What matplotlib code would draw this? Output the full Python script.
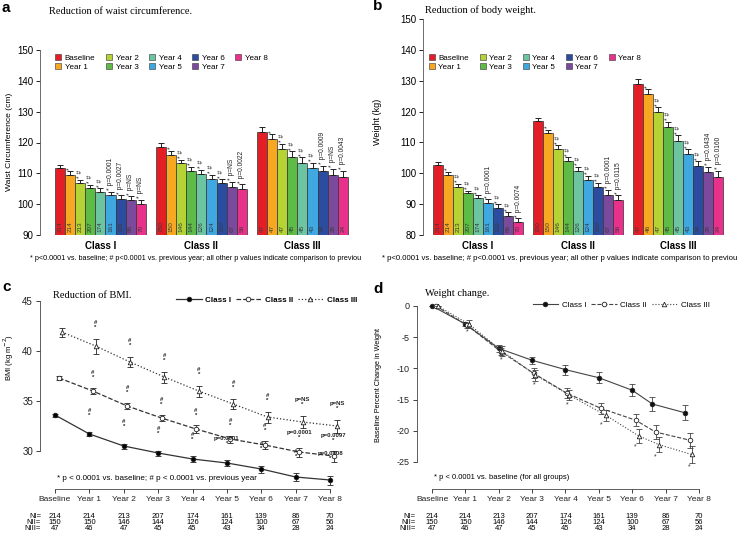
import matplotlib
matplotlib.use('Agg')
import matplotlib.pyplot as plt
from matplotlib.lines import Line2D
import matplotlib.transforms as mtransforms
import numpy as np

plt.rcParams['font.family'] = ['Liberation Sans', 'DejaVu Sans']
plt.rcParams['axes.unicode_minus'] = False

# ---------------- data ----------------
years = ['Baseline', 'Year 1', 'Year 2', 'Year 3', 'Year 4', 'Year 5', 'Year 6', 'Year 7', 'Year 8']
classes = ['Class I', 'Class II', 'Class III']
bar_colors = ['#E41E26', '#F7A823', '#B5D335', '#5DBB46', '#6CC5A0', '#3FA8E0', '#2B4C9F', '#7C4A9C', '#E8318B']

n_I = [214, 214, 213, 207, 174, 161, 139, 86, 70]
n_II = [150, 150, 146, 144, 126, 124, 100, 67, 56]
n_III_a = [47, 47, 47, 45, 45, 43, 34, 28, 24]
n_III = [47, 46, 47, 45, 45, 43, 34, 28, 24]

# panel a: waist circumference (cm)
waist_I = [111.8, 109.6, 107.0, 105.3, 104.1, 102.9, 101.7, 101.2, 100.1]
waist_II = [118.5, 116.1, 113.2, 110.9, 109.8, 108.3, 106.8, 105.7, 105.0]
waist_III = [123.3, 121.1, 117.8, 115.4, 113.4, 111.7, 110.6, 109.6, 108.7]
waist_err_I = [1.0, 1.0, 1.0, 1.0, 1.1, 1.1, 1.2, 1.3, 1.3]
waist_err_II = [1.2, 1.2, 1.2, 1.3, 1.3, 1.3, 1.3, 1.5, 1.5]
waist_err_III = [1.8, 1.6, 1.8, 1.8, 1.8, 1.7, 1.9, 1.9, 2.2]
waist_notes_I = ['', '*', '* #', '* #', '* #', '* p=0.0001', '* p=0.0027', '* p=NS', '* p=NS']
waist_notes_II = ['', '*', '* #', '* #', '* #', '* #', '* #', '* p=NS', '* p=0.0022']
waist_notes_III = ['', '*', '* #', '* #', '* #', '* #', '* p=0.0009', '* p=NS', '* p=0.0043']

# panel b: body weight (kg)
wt_I = [102.6, 99.6, 95.7, 93.5, 91.9, 90.5, 88.8, 86.0, 84.1]
wt_II = [116.8, 112.9, 107.9, 104.0, 100.8, 97.9, 95.6, 93.1, 91.3]
wt_III = [128.9, 125.6, 119.7, 114.9, 110.5, 106.2, 102.2, 100.3, 98.9]
wt_err_I = [0.9, 0.9, 0.9, 0.9, 1.0, 1.1, 1.2, 1.3, 1.3]
wt_err_II = [1.1, 1.2, 1.2, 1.2, 1.3, 1.3, 1.4, 1.6, 1.6]
wt_err_III = [1.6, 1.6, 1.7, 1.8, 1.8, 1.6, 1.7, 1.8, 2.0]
wt_notes_I = ['', '*', '* #', '* #', '* #', '* p=0.0001', '* #', '* #', '* p=0.0074']
wt_notes_II = ['', '*', '* #', '* #', '* #', '* #', '* #', '* p=0.0001', '* p=0.0115']
wt_notes_III = ['', '*', '* #', '* #', '* #', '* #', '* #', '* p=0.0434', '* p=0.0160']

# panel c: BMI
bmi_I = [33.6, 31.7, 30.5, 29.8, 29.2, 28.8, 28.2, 27.4, 27.1]
bmi_II = [37.3, 36.0, 34.5, 33.3, 32.2, 31.2, 30.6, 29.9, 29.5]
bmi_III = [41.9, 40.5, 38.9, 37.4, 36.0, 34.7, 33.4, 32.9, 32.5]
bmi_err_I = [0.15, 0.2, 0.25, 0.25, 0.3, 0.3, 0.35, 0.4, 0.45]
bmi_err_II = [0.2, 0.3, 0.3, 0.3, 0.35, 0.35, 0.4, 0.45, 0.55]
bmi_err_III = [0.45, 0.75, 0.5, 0.55, 0.55, 0.5, 0.55, 0.6, 0.65]
bmi_notes_I = ['', '#\n*', '#\n*', '#\n*', '#\n*', 'p=0.0001\n*', '#\n*', '#\n*', 'p=0.0008\n*']
bmi_notes_II = ['', '#\n*', '#\n*', '#\n*', '#\n*', '#\n*', '#\n*', 'p=0.0001\n*', 'p=0.0097\n*']
bmi_notes_III = ['', '#\n*', '#\n*', '#\n*', '#\n*', '#\n*', '#\n*', 'p=NS\n*', 'p=NS\n*']
bmi_time_I = [0, 1, 2, 3, 4, 5, 6, 7, 8]
bmi_time_II = [0.12, 1.1, 2.1, 3.1, 4.1, 5.1, 6.1, 7.1, 8.1]
bmi_time_III = [0.2, 1.18, 2.18, 3.18, 4.18, 5.18, 6.18, 7.2, 8.2]

# panel d: % change in weight
pct_I = [0, -2.9, -6.8, -8.7, -10.2, -11.5, -13.5, -15.7, -17.1]
pct_II = [0, -3.1, -7.3, -10.8, -14.0, -16.4, -18.3, -20.2, -21.5]
pct_III = [0, -2.9, -7.2, -11.1, -14.3, -17.5, -20.8, -22.2, -23.8]
pct_err_I = [0, 0.3, 0.5, 0.6, 0.8, 0.9, 1.0, 1.1, 1.2]
pct_err_II = [0, 0.4, 0.6, 0.8, 0.8, 0.9, 1.0, 1.1, 1.2]
pct_err_III = [0, 0.6, 0.8, 0.9, 0.8, 0.9, 1.1, 1.2, 1.3]
pct_time_I = [0, 1.0, 2.0, 3.0, 4.0, 5.0, 6.0, 6.6, 7.57]
pct_time_II = [0.12, 1.05, 2.06, 3.05, 4.05, 5.06, 6.1, 6.7, 7.72]
pct_time_III = [0.17, 1.1, 2.1, 3.1, 4.12, 5.2, 6.19, 6.79, 7.78]

# ---------------- layout helpers ----------------
W, H = 745, 536
fig = plt.figure(figsize=(W / 100, H / 100), dpi=100)


def rect(x0, y0, x1, y1):
    return [x0 / W, 1 - y1 / H, (x1 - x0) / W, (y1 - y0) / H]


def ftext(x, y, s, **kw):
    fig.text(x / W, 1 - y / H, s, **kw)


SERIF = ['Liberation Serif', 'DejaVu Serif']


def bar_panel(ax, vals, errs, ns, notes, ymin, ymax, yticks):
    for g in range(3):
        xs = g * 10 + np.arange(9)
        v = np.array(vals[g])
        ax.bar(xs, v - ymin, bottom=ymin, width=1.0, color=bar_colors,
               edgecolor='#333333', linewidth=0.5, zorder=2)
        ax.errorbar(xs, v, yerr=[np.zeros(9), errs[g]], fmt='none', ecolor='#222222',
                    elinewidth=0.7, capsize=2.2, capthick=0.7, zorder=3)
        for i in range(9):
            ax.text(xs[i], ymin + 0.9, str(ns[g][i]), rotation=90, ha='center', va='bottom',
                    fontsize=4.6, color='#3a3a3a', zorder=4)
            if notes[g][i]:
                ax.text(xs[i], v[i] + errs[g][i] + 0.5, notes[g][i], rotation=90,
                        ha='center', va='bottom', fontsize=4.8, color='#222222')
    ax.set_ylim(ymin, ymax)
    ax.set_yticks(yticks)
    ax.tick_params(axis='y', labelsize=7, length=3, width=0.6, pad=2)
    ax.set_xticks([4, 14, 24])
    ax.set_xticklabels(classes, fontsize=7, fontweight='bold')
    ax.tick_params(axis='x', length=0, pad=4)
    for s in ['top', 'right', 'bottom']:
        ax.spines[s].set_visible(False)
    ax.spines['left'].set_linewidth(0.6)
    ax.spines['left'].set_color('#555555')
    handles = [Line2D([], [], marker='s', linestyle='none', markerfacecolor=c,
                      markeredgecolor='#333333', markeredgewidth=0.4, markersize=4.5) for c in bar_colors]
    return handles


# ---------------- panel a ----------------
axa = fig.add_axes(rect(40, 50, 358, 235))
axa.set_xlim(-1.98, 29.5)
h = bar_panel(axa, [waist_I, waist_II, waist_III], [waist_err_I, waist_err_II, waist_err_III],
              [n_I, n_II, n_III_a], [waist_notes_I, waist_notes_II, waist_notes_III],
              90, 150, [90, 100, 110, 120, 130, 140, 150])
axa.legend(h, years, ncol=5, loc='upper left', bbox_to_anchor=(0.035, 0.995), frameon=False,
           fontsize=5.8, handletextpad=0.3, columnspacing=1.2, labelspacing=0.15,
           handlelength=1.0, borderaxespad=0)
ftext(10, 142, 'Waist Circumference (cm)', rotation=90, ha='center', va='center', fontsize=6.1)
ftext(49, 12, 'Reduction of waist circumference.', fontsize=7.5, family=SERIF, va='center')
ftext(2, 8, 'a', fontsize=11, fontweight='bold', va='center')
ftext(30, 258, '* p<0.0001 vs. baseline; # p<0.0001 vs. previous year; all other p values indicate comparison to previou',
      fontsize=5.2, va='center')

# ---------------- panel b ----------------
axb = fig.add_axes(rect(423, 19, 733, 235))
axb.set_xlim(-1.5, 29.5)
h = bar_panel(axb, [wt_I, wt_II, wt_III], [wt_err_I, wt_err_II, wt_err_III],
              [n_I, n_II, n_III], [wt_notes_I, wt_notes_II, wt_notes_III],
              80, 150, [80, 90, 100, 110, 120, 130, 140, 150])
axb.legend(h, years, ncol=5, loc='upper left', bbox_to_anchor=(0.005, 0.85), frameon=False,
           fontsize=5.8, handletextpad=0.3, columnspacing=1.2, labelspacing=0.15,
           handlelength=1.0, borderaxespad=0)
ftext(378, 122, 'Weight (kg)', rotation=90, ha='center', va='center', fontsize=6.5)
ftext(425, 10, 'Reduction of body weight.', fontsize=7.5, family=SERIF, va='center')
ftext(373, 6, 'b', fontsize=11, fontweight='bold', va='center')
ftext(382, 258, '* p<0.0001 vs. baseline; # p<0.0001 vs. previous year; all other p values indicate comparison to previou',
      fontsize=5.6, va='center')


def line_axes(ax, yb, xb):
    for s in ['top', 'right']:
        ax.spines[s].set_visible(False)
    ax.spines['left'].set_bounds(*yb)
    ax.spines['bottom'].set_bounds(*xb)
    for s in ['left', 'bottom']:
        ax.spines[s].set_linewidth(0.6)
        ax.spines[s].set_color('#444444')
    ax.set_xticks(range(9))
    ax.set_xticklabels(years, fontsize=6)
    ax.tick_params(axis='both', length=3, width=0.6, pad=2, colors='#222222')
    ax.tick_params(axis='y', labelsize=7)


def n_table(ax, ylist, xlab):
    tr = mtransforms.blended_transform_factory(ax.transData, fig.transFigure)
    rows = [('NI=', n_I), ('NII=', n_II), ('NIII=', n_III)]
    for (lab, ns), yy in zip(rows, ylist):
        fig.text(xlab / W, 1 - yy / H, lab, ha='right', va='center', fontsize=5.5)
        for i, n in enumerate(ns):
            ax.text(i, 1 - yy / H, str(n), transform=tr, ha='center', va='center', fontsize=5.5, clip_on=False)


# ---------------- panel c ----------------
axc = fig.add_axes(rect(40, 291, 360, 489))
axc.set_xlim(-0.436, 8.87)
axc.set_ylim(26.2, 46)
line_axes(axc, (30, 45), (0, 8))
axc.set_yticks([30, 35, 40, 45])
styles = [('-', 'o', 'black'), ('--', 'o', 'white'), (':', '^', 'white')]
sets_c = [(bmi_time_I, bmi_I, bmi_err_I, bmi_notes_I, 1.45),
          (bmi_time_II, bmi_II, bmi_err_II, bmi_notes_II, 0.8),
          (bmi_time_III, bmi_III, bmi_err_III, bmi_notes_III, 0.9)]
for (t, v, e, notes, off), (ls, mk, mfc) in zip(sets_c, styles):
    axc.errorbar(t, v, yerr=e, fmt='none', ecolor='#222222', elinewidth=0.6, capsize=2.5, capthick=0.6)
    axc.plot(t, v, linestyle=ls, color='#333333', linewidth=0.9, marker=mk, markersize=3.3,
             markerfacecolor=mfc, markeredgecolor='#222222', markeredgewidth=0.6)
    for i in range(9):
        if notes[i]:
            axc.text(t[i], v[i] + e[i] + off, notes[i], ha='center', va='bottom', fontsize=4.3,
                     fontweight='bold', linespacing=0.95, color='#222222')
leg_h = [Line2D([], [], linestyle=ls, color='#333333', linewidth=0.9, marker=mk, markersize=3.3,
                markerfacecolor=mfc, markeredgecolor='#222222', markeredgewidth=0.6)
         for ls, mk, mfc in styles]
axc.legend(leg_h, classes, ncol=3, loc='upper right', bbox_to_anchor=(1.0, 0.99), frameon=False,
           handlelength=3.2, handletextpad=0.4, columnspacing=0.6, borderaxespad=0,
           prop={'weight': 'bold', 'size': 5.8})
axc.text(0.05, 27.3, '* p < 0.0001 vs. baseline; # p < 0.0001 vs. previous year', fontsize=5.8, va='center')
ftext(9, 357, 'BMI (kg m$^{-2}$)', rotation=90, ha='center', va='center', fontsize=5.5)
ftext(53, 295, 'Reduction of BMI.', fontsize=7.5, family=SERIF, va='center')
ftext(2, 287, 'c', fontsize=11, fontweight='bold', va='center')
n_table(axc, [516, 522.5, 529], 41)

# ---------------- panel d ----------------
axd = fig.add_axes(rect(417, 296, 735, 489))
axd.set_xlim(-0.45, 9.08)
axd.set_ylim(-29.33, 1.6)
line_axes(axd, (-25, 0), (0, 8))
axd.set_yticks([0, -5, -10, -15, -20, -25])
axd.tick_params(axis='y', labelsize=6.5)
sets_d = [(pct_time_I, pct_I, pct_err_I), (pct_time_II, pct_II, pct_err_II), (pct_time_III, pct_III, pct_err_III)]
for (t, v, e), (ls, mk, mfc) in zip(sets_d, styles):
    axd.errorbar(t, v, yerr=e, fmt='none', ecolor='#444444', elinewidth=0.6, capsize=2.5, capthick=0.6)
    axd.plot(t, v, linestyle=ls, color='#444444', linewidth=0.8, marker=mk, markersize=3.3,
             markerfacecolor=mfc if mfc == 'white' else '#111111', markeredgecolor='#222222', markeredgewidth=0.6)
for i in range(1, 9):
    axd.text(pct_time_II[i], pct_III[i] - pct_err_III[i] - 0.15, '*', ha='center', va='top', fontsize=5, color='#333333')
leg_h = [Line2D([], [], linestyle=ls, color='#444444', linewidth=0.8, marker=mk, markersize=3.3,
                markerfacecolor=mfc if mfc == 'white' else '#111111', markeredgecolor='#222222', markeredgewidth=0.6)
         for ls, mk, mfc in styles]
axd.legend(leg_h, classes, ncol=3, loc='upper right', bbox_to_anchor=(0.93, 0.99), frameon=False,
           fontsize=5.8, handlelength=3.2, handletextpad=0.4, columnspacing=0.6, borderaxespad=0)
axd.text(0.05, -27.5, '* p < 0.0001 vs. baseline (for all groups)', fontsize=5.5, va='center')
ftext(379, 385, 'Baseline Percent Change in Weight', rotation=90, ha='center', va='center', fontsize=5.2)
ftext(425, 293, 'Weight change.', fontsize=7.5, family=SERIF, va='center')
ftext(373, 289, 'd', fontsize=11, fontweight='bold', va='center')
n_table(axd, [516, 522.5, 529], 416)

fig.savefig('out.png', dpi=100)
